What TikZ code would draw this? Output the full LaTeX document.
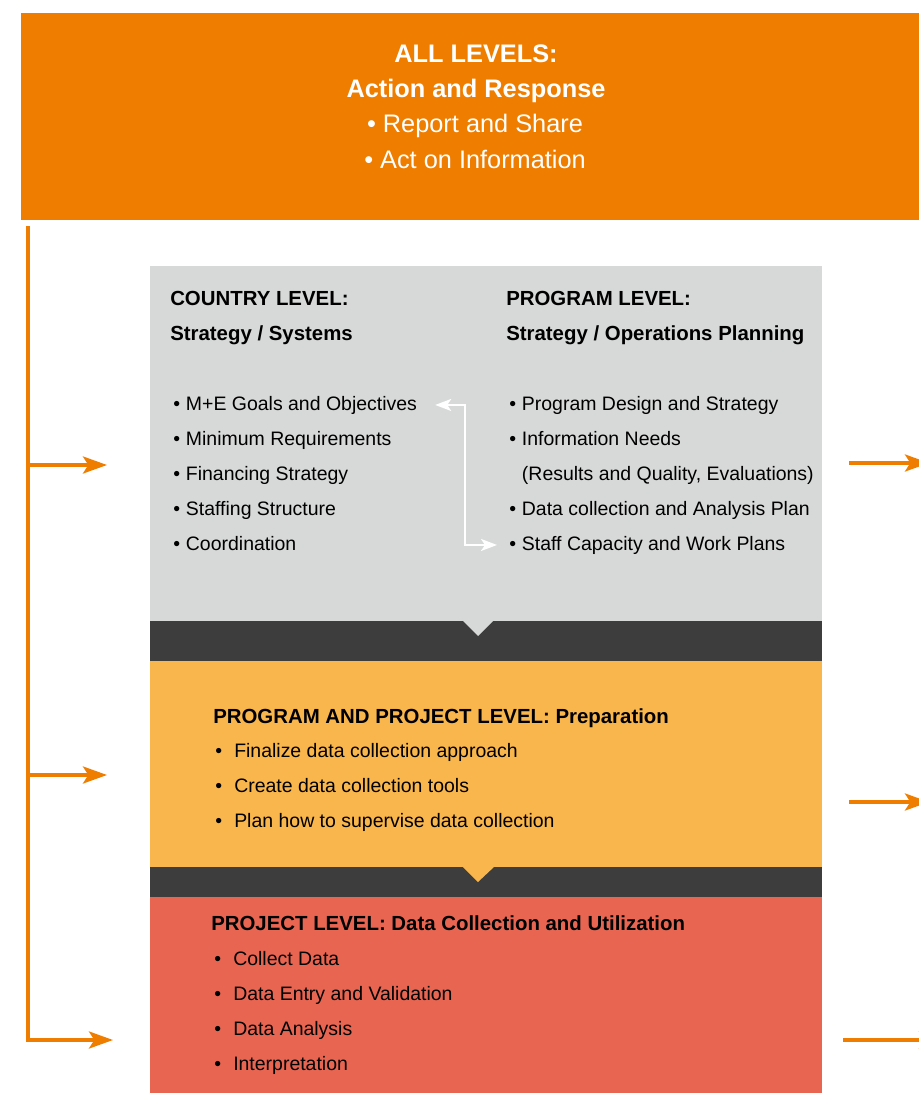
\documentclass[tikz,border=0pt]{standalone}
\usepackage{fontspec}
\setmainfont{Liberation Sans}
\usetikzlibrary{arrows.meta,positioning,calc}
\definecolor{brandorange}{HTML}{EF7D00}
\definecolor{panelgray}{HTML}{D7D8D8}
\definecolor{bandgray}{HTML}{3D3D3D}
\definecolor{prepyellow}{HTML}{F8B64D}
\definecolor{collectred}{HTML}{E86552}
\newcommand{\bul}[1]{\makebox[9.5pt][l]{\textbullet}#1}
\newcommand{\bulwide}[1]{\makebox[14.25pt][l]{\textbullet}#1}
\tikzset{
  panel/.style={draw=none, inner sep=0pt, anchor=north west},
  hdr/.style={anchor=base west, inner sep=0pt, font=\fontsize{15.3}{18}\selectfont\bfseries},
  itm/.style={anchor=base west, inner sep=0pt, font=\fontsize{14.6}{17}\selectfont},
  banner/.style={anchor=base, inner sep=0pt, text=white, font=\fontsize{19}{22}\selectfont},
  feed/.style={-{Stealth[length=18pt, width=12.75pt, inset=4pt]}, brandorange, line width=2.6pt},
  link/.style={{Stealth[length=12pt, width=9pt, inset=3pt]}-{Stealth[length=12pt, width=9pt, inset=3pt]}, white, line width=1.5pt}
}

\begin{document}
\begin{tikzpicture}[x=0.75pt, y=-0.75pt]
  \useasboundingbox (0,0) rectangle (918,1095);
  % bands and panels
  \node[panel, fill=brandorange, minimum width=678pt, minimum height=155.25pt] (all) at (21,13) {};
  \node[panel, fill=panelgray, minimum width=504pt, minimum height=266.25pt] (plan) at (150,266) {};
  \node[panel, fill=bandgray, minimum width=504pt, minimum height=30pt] (gapA) at (150,621) {};
  \node[panel, fill=prepyellow, minimum width=504pt, minimum height=154.5pt] (prep) at (150,661) {};
  \node[panel, fill=bandgray, minimum width=504pt, minimum height=22.5pt] (gapB) at (150,867) {};
  \node[panel, fill=collectred, minimum width=504pt, minimum height=147pt] (collect) at (150,897) {};
  % notches
  \fill[panelgray] (462,620) -- (494,620) -- (478,636) -- cycle;
  \fill[prepyellow] (462,866) -- (495,866) -- (478,882) -- cycle;

  % all levels
  \node[banner, font=\fontsize{19}{22}\selectfont\bfseries] (allhead) at (476,63) {ALL LEVELS:};
  \node[banner, font=\fontsize{19}{22}\selectfont\bfseries] (allsub) at (476,98) {Action and Response};
  \node[banner] (all1) at (475,133) {\textbullet\ Report and Share};
  \node[banner] (all2) at (475,168) {\textbullet\ Act on Information};

  % country and program level
  \node[hdr] (ctyhead) at (170,305) {COUNTRY LEVEL:};
  \node[hdr] (ctysub) at (170,340) {Strategy / Systems};
  \node[hdr] (prghead) at (506,305) {PROGRAM LEVEL:};
  \node[hdr] (prgsub) at (506,340) {Strategy / Operations Planning};
  \foreach \txt [count=\k] in {M+E Goals and Objectives, Minimum Requirements, Financing Strategy, Staffing Structure, Coordination}
    \node[itm] (cty\k) at (173,375+35*\k) {\bul{\txt}};
  \foreach \k/\txt in {1/Program Design and Strategy, 2/Information Needs, 4/Data collection and Analysis Plan, 5/Staff Capacity and Work Plans}
    \node[itm] (prg\k) at (509,375+35*\k) {\bul{\txt}};
  \node[itm] (prg3) at (521.7,480) {(Results and Quality, Evaluations)};
  \draw[link] ($(cty1.east)+(18,0)$) -- ++(30,0) |- ($(prg5.west)+(-12,0)$);

  % preparation
  \node[hdr] (prephead) at (213,723) {PROGRAM AND PROJECT LEVEL: Preparation};
  \foreach \txt [count=\k] in {Finalize data collection approach, Create data collection tools, Plan how to supervise data collection}
    \node[itm] (prep\k) at (215,722+35*\k) {\bulwide{\txt}};

  % data collection
  \node[hdr] (collhead) at (211,930) {PROJECT LEVEL: Data Collection and Utilization};
  \foreach \txt [count=\k] in {Collect Data, Data Entry and Validation, Data Analysis, Interpretation}
    \node[itm] (coll\k) at (214,930+35*\k) {\bulwide{\txt}};

  % feedback loop
  \coordinate (trunk) at (28,226);
  \coordinate (toplan) at (107,465);
  \coordinate (toprep) at (107,775);
  \coordinate (tocoll) at (113,1040);
  \draw[feed] (trunk) |- (tocoll);
  \draw[feed] (trunk |- toplan) -- (toplan);
  \draw[feed] (trunk |- toprep) -- (toprep);
  \coordinate (fromplan) at (849,463);
  \coordinate (fromprep) at (849,802);
  \coordinate (fromcoll) at (843,1040);
  \draw[feed] (fromplan) -- ++(80,0);
  \draw[feed] (fromprep) -- ++(80,0);
  \draw[feed] (fromcoll) -- ++(100,0);
\end{tikzpicture}
\end{document}
